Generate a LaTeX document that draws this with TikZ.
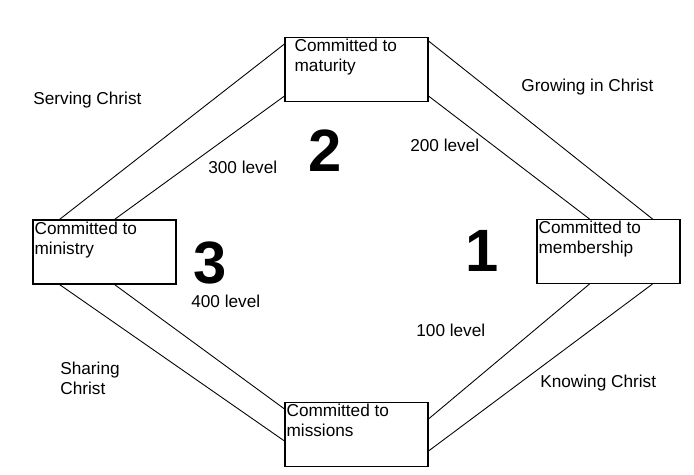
\documentclass[tikz,border=0pt]{standalone}
\usepackage{fontspec}
\setmainfont{Liberation Sans}
\usetikzlibrary{positioning,calc}
\tikzset{
    stagebox/.style={draw, line width=0.6pt, minimum width=2.86cm, minimum height=1.28cm, inner sep=2pt},
    stagetext/.style={font=\fontsize{9.8}{11.5}\selectfont, align=left, inner sep=1pt},
    pathtext/.style={font=\fontsize{9.8}{11.5}\selectfont, align=left, inner sep=0pt},
    bignum/.style={font=\fontsize{34}{34}\selectfont\bfseries, inner sep=0pt},
    track/.style={line width=0.5pt}
}
\begin{document}
\begin{tikzpicture}[x=0.02cm, y=-0.02cm]
    \useasboundingbox (0,0) rectangle (694,475);

    % === STAGE BOXES ===
    \node[stagebox] (maturity) at (356.5,69.5) {};
    \node[stagebox] (ministry) at (104.5,252) {};
    \node[stagebox] (membership) at (608.5,251.5) {};
    \node[stagebox] (missions) at (356.5,434.5) {};

    \node[stagetext, anchor=north west] at ($(maturity.north west)+(8,0)$) {Committed to\\maturity};
    \node[stagetext, anchor=north west] at (ministry.north west) {Committed to\\ministry};
    \node[stagetext, anchor=north west] at (membership.north west) {Committed to\\membership};
    \node[stagetext, anchor=north west] at (missions.north west) {Committed to\\missions};

    % === TRACK END POINTS ===
    \coordinate (tr1) at ($(maturity.north east)+(0,4)$);
    \coordinate (tr2) at ($(maturity.south east)+(0,-6)$);
    \coordinate (tl1) at ($(maturity.north west)+(0,7)$);
    \coordinate (tl2) at ($(maturity.south west)+(0,-6)$);
    \coordinate (br1) at ($(missions.north east)+(0,17)$);
    \coordinate (br2) at ($(missions.south east)+(0,-16)$);
    \coordinate (bl1) at ($(missions.north west)+(0,7)$);
    \coordinate (bl2) at ($(missions.south west)+(0,-26)$);
    \coordinate (rt1) at ($(membership.north west)+(116,0)$);
    \coordinate (rt2) at ($(membership.north west)+(53,0)$);
    \coordinate (rb1) at ($(membership.south west)+(53,0)$);
    \coordinate (rb2) at ($(membership.south west)+(116,0)$);
    \coordinate (lt1) at ($(ministry.north west)+(27,0)$);
    \coordinate (lt2) at ($(ministry.north west)+(82,0)$);
    \coordinate (lb1) at ($(ministry.south west)+(82,0)$);
    \coordinate (lb2) at ($(ministry.south west)+(27,0)$);

    % === TRACKS ===
    \draw[track] (tr1) -- (rt1);
    \draw[track] (tr2) -- (rt2);
    \draw[track] (tl1) -- (lt1);
    \draw[track] (tl2) -- (lt2);
    \draw[track] (br1) -- (rb1);
    \draw[track] (br2) -- (rb2);
    \draw[track] (bl1) -- (lb1);
    \draw[track] (bl2) -- (lb2);

    % === LABELS ===
    \node[pathtext, anchor=west] (serving) at (33,100) {Serving Christ};
    \node[pathtext, anchor=west] (growing) at (521,87) {Growing in Christ};
    \node[pathtext, anchor=west] (sharing) at (60,378) {Sharing\\Christ};
    \node[pathtext, anchor=west] (knowing) at (540,383) {Knowing Christ};
    \node[pathtext, anchor=west] (l200) at (410,145) {200 level};
    \node[pathtext, anchor=west] (l300) at (208,167) {300 level};
    \node[pathtext, anchor=west] (l400) at (191,301) {400 level};
    \node[pathtext, anchor=west] (l100) at (416,330) {100 level};

    \node[bignum] (two) at (325,151) {2};
    \node[bignum] (three) at (210,263) {3};
    \node[bignum] (one) at (482,251) {1};
\end{tikzpicture}
\end{document}
